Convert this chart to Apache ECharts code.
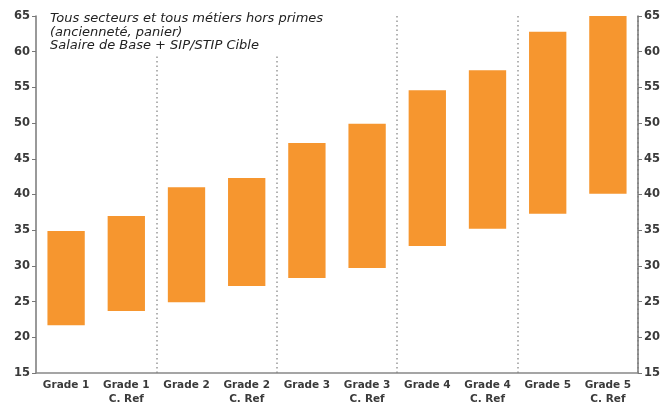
<!DOCTYPE html>
<html><head><meta charset="utf-8">
<script src="https://cdn.jsdelivr.net/npm/echarts@6/dist/echarts.min.js"></script>
<style>html,body{margin:0;padding:0;background:#fff}#c{width:665px;height:402px}</style>
</head><body><div id="c"></div>
<script>
const categories = ['Grade 1','Grade 1\nC. Ref','Grade 2','Grade 2\nC. Ref','Grade 3','Grade 3\nC. Ref','Grade 4','Grade 4\nC. Ref','Grade 5','Grade 5\nC. Ref'];
const lowValues  = [21.7, 23.7, 24.9, 27.2, 28.3, 29.7, 32.8, 35.2, 37.3, 40.1];
const highValues = [34.9, 37.0, 41.0, 42.3, 47.2, 49.9, 54.6, 57.4, 62.8, 65.0];
const titleLines = ['Tous secteurs et tous métiers hors primes','(ancienneté, panier)','Salaire de Base + SIP/STIP Cible'];

const chart = echarts.init(document.getElementById('c'));
const labelFont = {fontFamily:'DejaVu Sans', fontSize:10.5, fontWeight:'bold', color:'#3a3a3a'};
const yCommon = {type:'value', min:15, max:65, interval:5,
  axisLine:{show:true, lineStyle:{color:'#777', width:1.5}},
  axisTick:{show:true, length:4, lineStyle:{color:'#777'}},
  splitLine:{show:false}, axisLabel:Object.assign({margin:6}, labelFont, {fontSize:11.5})};
chart.setOption({
  animation:false,
  grid:{left:36, right:27, top:16, bottom:29, containLabel:false, outerBoundsMode:'none'},
  title:{text:titleLines.join('\n'), left:48, top:10,
    backgroundColor:'#fff', padding:[2,4,2,2],
    textStyle:{fontFamily:'DejaVu Sans', fontStyle:'italic', fontWeight:'normal', fontSize:13, color:'#222', lineHeight:13.5}},
  xAxis:{type:'category', data:categories,
    axisLine:{lineStyle:{color:'#888', width:1.5}},
    axisTick:{show:false},
    axisLabel:Object.assign({margin:6, lineHeight:13.5, interval:0}, labelFont),
    splitLine:{show:true, interval:function(i){return i>0 && i%2===0;},
      lineStyle:{color:'#999', type:[1.5,3], width:1.5}}},
  yAxis:[Object.assign({position:'left'}, yCommon), Object.assign({position:'right'}, yCommon)],
  series:[
    {type:'bar', stack:'r', data:lowValues, itemStyle:{color:'transparent'}, barWidth:'62%', silent:true},
    {type:'bar', stack:'r', data:highValues.map((h,i)=>+(h-lowValues[i]).toFixed(2)), itemStyle:{color:'#F6962F'}, barWidth:'62%'}
  ]
});
</script></body></html>
